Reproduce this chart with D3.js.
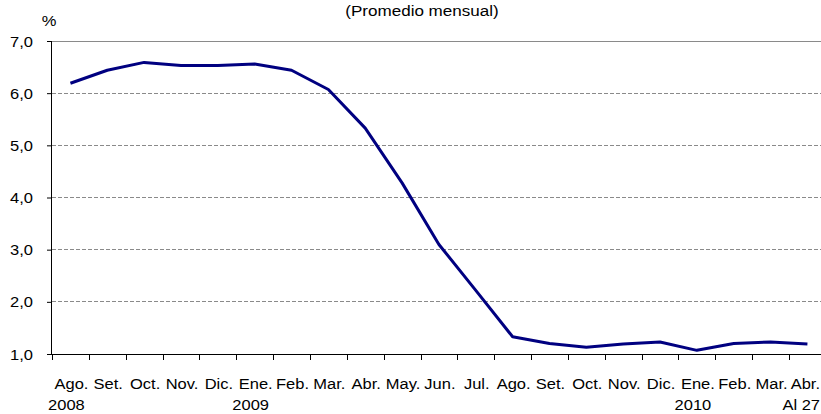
<!DOCTYPE html>
<html>
<head>
<meta charset="utf-8">
<script src="https://cdn.jsdelivr.net/npm/d3@7"></script>
<style>
  html, body { margin: 0; padding: 0; background: #fff; }
  svg { display: block; }
  text { font-family: "Liberation Sans", Arial, sans-serif; fill: #000; }
</style>
</head>
<body>
<svg id="chart" width="821" height="414"></svg>
<script>
const months = ["Ago.","Set.","Oct.","Nov.","Dic.","Ene.","Feb.","Mar.","Abr.","May.","Jun.","Jul.",
                "Ago.","Set.","Oct.","Nov.","Dic.","Ene.","Feb.","Mar.","Abr."];
const yearLabels = ["2008","","","","","2009","","","","","","","","","","","","2010","","","Al 27"];
const values = [6.19, 6.44, 6.59, 6.53, 6.53, 6.56, 6.44, 6.07, 5.33, 4.28, 3.10, 2.22,
                1.33, 1.20, 1.13, 1.19, 1.23, 1.07, 1.20, 1.23, 1.19];
const yTicks = [1, 2, 3, 4, 5, 6, 7];
const title = "(Promedio mensual)";
const unit = "%";

const W = 821, H = 414;
const left = 52, bandW = 36.85;
const svg = d3.select("#chart");
const SX = 1.1; // horizontal stretch of the reference's text

const x = d3.scaleBand().domain(d3.range(values.length))
  .range([left, left + bandW * values.length]).paddingInner(0).paddingOuter(0);
const y = d3.scaleLinear().domain([1, 7]).range([354, 41]);
const fmt = v => d3.format(".1f")(v).replace(".", ",");

function stretchedText(g, tx, ty, str, size, anchor) {
  g.append("text")
    .attr("transform", `translate(${tx},${ty}) scale(${SX},1)`)
    .attr("text-anchor", anchor)
    .style("font-size", size + "px")
    .text(str);
}

// gridlines
svg.append("g").selectAll("line").data(yTicks.filter(d => d > 1)).join("line")
  .attr("x1", left).attr("x2", W)
  .attr("y1", d => y(d)).attr("y2", d => y(d))
  .attr("stroke", "#8a8a8a").attr("stroke-width", 1)
  .attr("stroke-dasharray", d => d === 7 ? null : "4,2")
  .attr("shape-rendering", "crispEdges");

// y axis
const yAxis = svg.append("g").attr("transform", `translate(${left},0)`)
  .call(d3.axisLeft(y).tickValues(yTicks).tickSize(5).tickFormat(""));
yAxis.select(".domain").attr("stroke", "#000").attr("d", `M-0.5,${y(7)}V${y(1)}`);
yAxis.selectAll(".tick line").attr("stroke", "#000");
const yl = svg.append("g");
yTicks.forEach(t => stretchedText(yl, 33, y(t) + 5.5, fmt(t), 15, "end"));

// x axis (ticks at category boundaries)
const boundaries = d3.range(values.length).map(i => x(i));
const xAxisG = svg.append("g");
xAxisG.append("line").attr("x1", left - 5).attr("x2", W).attr("y1", y(1) + 0.5).attr("y2", y(1) + 0.5)
  .attr("stroke", "#000");
xAxisG.selectAll("line.tk").data(boundaries).join("line").attr("class", "tk")
  .attr("x1", d => Math.round(d) + 0.5).attr("x2", d => Math.round(d) + 0.5)
  .attr("y1", y(1)).attr("y2", y(1) + 6).attr("stroke", "#000");

const xl = svg.append("g");
const last = values.length - 1;
months.forEach((m, i) => {
  if (i === last) stretchedText(xl, W - 1, 389, m, 15, "end");
  else stretchedText(xl, x(i) + x.bandwidth() / 2 + 1, 389, m, 15, "middle");
});
yearLabels.forEach((m, i) => {
  if (!m) return;
  if (i === last) stretchedText(xl, W - 1, 410, m, 15, "end");
  else stretchedText(xl, x(i) + x.bandwidth() / 2 - 4, 410, m, 15, "middle");
});

// line
const line = d3.line().x((d, i) => x(i) + x.bandwidth() / 2).y(d => y(d));
svg.append("path").datum(values).attr("d", line)
  .attr("fill", "none").attr("stroke", "#000080").attr("stroke-width", 3)
  .attr("stroke-linejoin", "round");

// title and unit
const tg = svg.append("g");
stretchedText(tg, 422, 16, title, 15.5, "middle");
stretchedText(tg, 49, 26, unit, 15, "middle");
</script>
</body>
</html>
